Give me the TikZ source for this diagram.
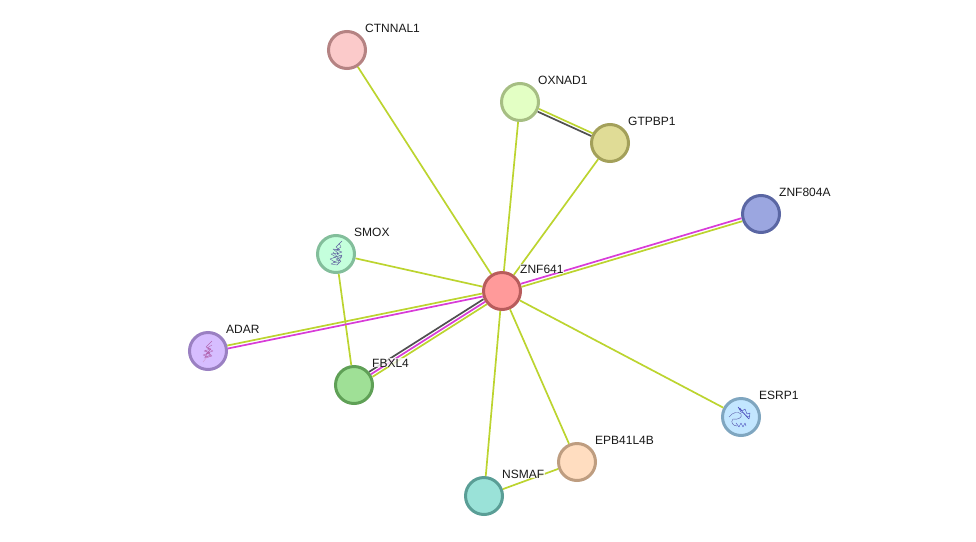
\documentclass[tikz,border=0pt]{standalone}
\usepackage{fontspec}
\setmainfont{Liberation Sans}
\definecolor{lnY}{HTML}{BCD42F}
\definecolor{lnM}{HTML}{D83CD8}
\definecolor{lnK}{HTML}{505050}
\definecolor{fZ}{HTML}{FF9A9A}\definecolor{bZ}{HTML}{B85C5C}
\definecolor{fC}{HTML}{FBCACA}\definecolor{bC}{HTML}{B58383}
\definecolor{fO}{HTML}{E3FFC4}\definecolor{bO}{HTML}{A6BE83}
\definecolor{fG}{HTML}{E0DC96}\definecolor{bG}{HTML}{A3A05A}
\definecolor{fN}{HTML}{9BA6E0}\definecolor{bN}{HTML}{5A66A3}
\definecolor{fS}{HTML}{C4FFDC}\definecolor{bS}{HTML}{83BE9B}
\definecolor{fA}{HTML}{D6BDFF}\definecolor{bA}{HTML}{9A80C2}
\definecolor{fF}{HTML}{9FE096}\definecolor{bF}{HTML}{5FA056}
\definecolor{fM}{HTML}{9AE2D8}\definecolor{bM}{HTML}{5A9E96}
\definecolor{fE}{HTML}{FFDDC0}\definecolor{bE}{HTML}{BE9D80}
\definecolor{fR}{HTML}{C2E6FF}\definecolor{bR}{HTML}{7FA6C0}
\tikzset{
  prot/.style 2 args={circle,draw=#2,fill=#1,line width=3pt,minimum size=37pt,inner sep=0pt},
  lbl/.style={font=\fontsize{12}{13}\selectfont,text=black!90,fill=white,fill opacity=0.8,text opacity=1,inner sep=0.3pt,anchor=base west},
  edgeY/.style={draw=lnY,line width=1.7pt},
  edgeM/.style={draw=lnM,line width=1.7pt},
  edgeK/.style={draw=lnK,line width=1.7pt},
  squig/.style={line width=0.4pt,line join=round}
}
\begin{document}
\begin{tikzpicture}[x=1pt,y=-1pt]
\useasboundingbox (0,0) rectangle (976,541);
% proteins
\node[prot={fZ}{bZ}] (ZNF) at (502,291) {};
\node[prot={fC}{bC}] (CTN) at (347,50) {};
\node[prot={fO}{bO}] (OXN) at (520,102) {};
\node[prot={fG}{bG}] (GTP) at (610,143) {};
\node[prot={fN}{bN}] (ZN8) at (761,214) {};
\node[prot={fS}{bS}] (SMO) at (336,254) {};
\node[prot={fA}{bA}] (ADA) at (208,351) {};
\node[prot={fF}{bF}] (FBX) at (354,385) {};
\node[prot={fM}{bM}] (NSM) at (484,496) {};
\node[prot={fE}{bE}] (EPB) at (577,462) {};
\node[prot={fR}{bR}] (ESR) at (741,417) {};
% single edges
\draw[edgeY] (ZNF) -- (CTN);
\draw[edgeY] (ZNF) -- (OXN);
\draw[edgeY] (ZNF) -- (GTP);
\draw[edgeY] (ZNF) -- (SMO);
\draw[edgeY] (SMO) -- (FBX);
\draw[edgeY] (ZNF) -- (NSM);
\draw[edgeY] (ZNF) -- (EPB);
\draw[edgeY] (ZNF) -- (ESR);
\draw[edgeY] (NSM) -- (EPB);
% multi edges
\draw[edgeY,transform canvas={shift={(0.9pt,1.4pt)}}] (OXN) -- (GTP);
\draw[edgeK,transform canvas={shift={(-0.6pt,-1.3pt)}}] (OXN) -- (GTP);
\draw[edgeM,transform canvas={shift={(-0.45pt,1.5pt)}}] (ZNF) -- (ZN8);
\draw[edgeY,transform canvas={shift={(0.45pt,-1.5pt)}}] (ZNF) -- (ZN8);
\draw[edgeY,transform canvas={shift={(-0.3pt,1.5pt)}}] (ZNF) -- (ADA);
\draw[edgeM,transform canvas={shift={(0.3pt,-1.5pt)}}] (ZNF) -- (ADA);
\draw[edgeK,transform canvas={shift={(-1.7pt,2.5pt)}}] (ZNF) -- (FBX);
\draw[edgeM] (ZNF) -- (FBX);
\draw[edgeY,transform canvas={shift={(1.7pt,-2.5pt)}}] (ZNF) -- (FBX);
% structure sketches inside nodes
\draw[squig,draw=gray!75!blue] (342,241) -- (336,247) -- (340,250) -- (333,249) -- (338,253) -- (331,254) -- (336,257) -- (330,259) -- (335,262) -- (331,264) -- (337,265) -- (341,261) -- (336,259) -- (342,257) -- (337,254) -- (342,252) -- (336,250) -- (341,247) -- (339,243);
\draw[squig,draw=gray!75!blue] (333,252) -- (340,260) -- (333,262) -- (338,263) -- (342,255) -- (333,258);
\draw[squig,draw=violet!60] (212,341) -- (206,347) -- (211,349) -- (204,351) -- (210,353) -- (203,355) -- (209,357) -- (204,358) -- (212,356) -- (207,353) -- (213,351) -- (207,348) -- (212,345);
\draw[squig,draw=violet!60] (205,350) -- (211,355) -- (205,357) -- (210,350) -- (206,354);
\draw[squig,draw=violet!40] (203,362) -- (207,357);
\draw[squig,draw=blue!45!gray] (738,407) -- (742,411) -- (745,409) -- (747,414) -- (750,413) -- (749,419) -- (746,416) -- (744,413) -- (741,412) -- cycle;
\draw[squig,draw=blue!45!gray] (740,408) -- (744,414) -- (748,417) -- (750,416);
\draw[squig,draw=gray!70!blue] (729,417) .. controls (733,412) and (738,411) .. (741,414) .. controls (743,418) and (737,420) .. (733,419) .. controls (730,422) and (733,426) .. (737,426);
\draw[squig,draw=blue!45!gray] (736,423) -- (739,427) -- (741,423) -- (743,427) -- (745,423) -- (746,426);
% labels
\node[lbl] (lZ) at (519.7,273) {ZNF641};
\node[lbl] (lC) at (364.7,32) {CTNNAL1};
\node[lbl] (lO) at (537.7,84) {OXNAD1};
\node[lbl] (lG) at (627.7,125) {GTPBP1};
\node[lbl] (lN8) at (778.7,196) {ZNF804A};
\node[lbl] (lS) at (353.7,236) {SMOX};
\node[lbl] (lA) at (225.7,333) {ADAR};
\node[lbl] (lF) at (371.7,367) {FBXL4};
\node[lbl] (lNS) at (501.7,478) {NSMAF};
\node[lbl] (lEP) at (594.7,444) {EPB41L4B};
\node[lbl] (lES) at (758.7,399) {ESRP1};
\end{tikzpicture}
\end{document}
